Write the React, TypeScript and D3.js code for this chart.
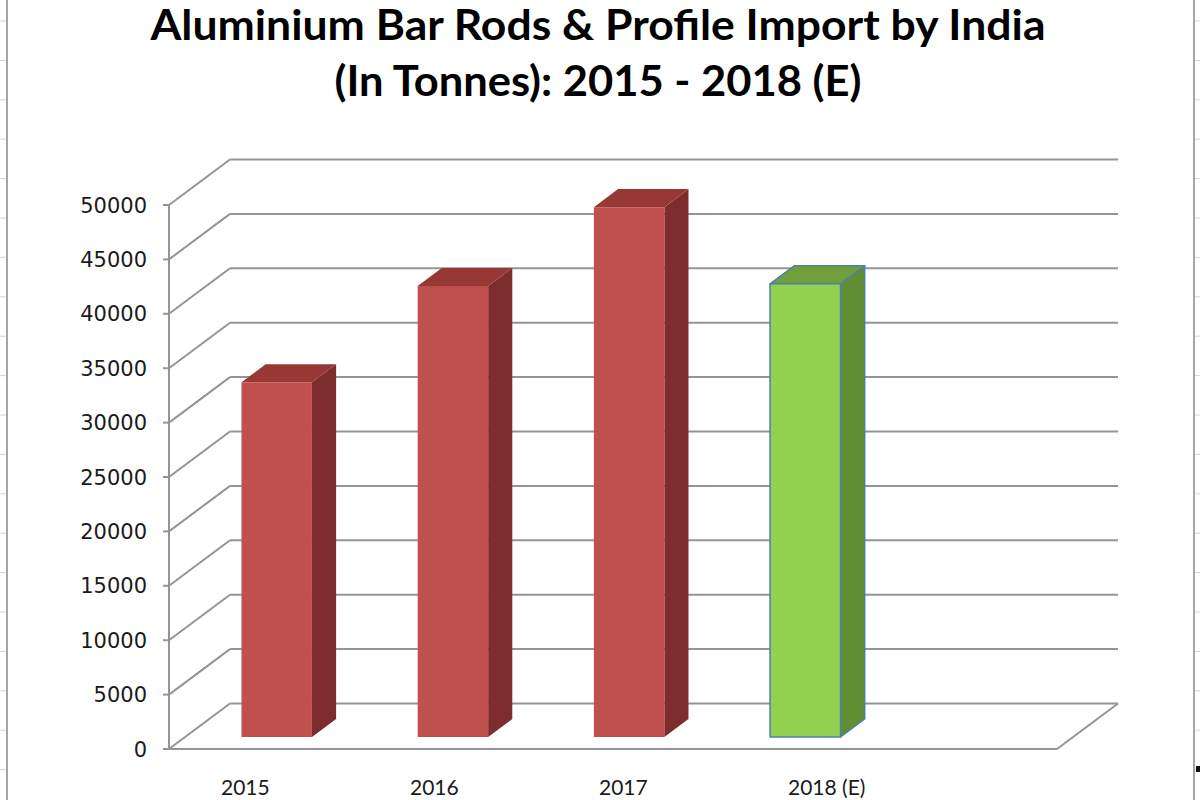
import React from 'react';
import * as d3 from 'd3';

// Excel 3D column chart: imports in tonnes, last year is an estimate
const categories = ['2015', '2016', '2017', '2018 (E)', ''];
const imports = [32600, 41450, 48700, 41650];
const estimated = [false, false, false, true];
const yTickValues = [0, 5000, 10000, 15000, 20000, 25000, 30000, 35000, 40000, 45000, 50000];

const titleLines = ['Aluminium Bar Rods & Profile Import by India', '(In Tonnes): 2015 - 2018 (E)'];

const W = 1200;
const H = 800;

// oblique depth offset of the plot box
const DEPTH_X = 61;
const DEPTH_Y = -45.5;
// bar front / back depth (fraction of the box depth)
const Z_FRONT = 0.264;
const Z_BACK = 0.66;

const GRID = '#959595';

const colors = {
  actual: { front: '#c0504d', top: '#983835', side: '#7d2e2c', stroke: 'none' },
  estimate: { front: '#92d050', top: '#6f9f3a', side: '#5f8e33', stroke: '#4f7fa8' },
};

const App: React.FC = () => {
  const x = d3.scaleBand<string>()
    .domain(categories)
    .range([169, 1057])
    .paddingInner(0.6)
    .paddingOuter(0.32);

  const y = d3.scaleLinear().domain([0, 50000]).range([749, 205]);

  // labels sit on the front edge with Excel's perspective spread
  const labelX = d3.scalePoint<string>()
    .domain(categories.slice(0, 4))
    .range([221, 788]);

  const proj = (px: number, py: number, z: number): [number, number] => [
    px + DEPTH_X * z,
    py + DEPTH_Y * z,
  ];
  const pts = (list: [number, number][]) => list.map((p) => p.join(',')).join(' ');

  const [x0, x1] = x.range();

  return (
    <svg
      width={W}
      height={H}
      style={{ position: 'absolute', left: 0, top: 0, background: '#fff' }}
    >
      {/* spreadsheet edges behind the chart */}
      {d3.range(21, H, 39.4).map((gy) => (
        <g key={gy}>
          <line x1={0} x2={7} y1={gy} y2={gy} stroke="#d4d4d4" strokeWidth={1} />
          <line x1={1195} x2={1200} y1={gy} y2={gy} stroke="#d4d4d4" strokeWidth={1} />
        </g>
      ))}
      <line x1={7} x2={7} y1={0} y2={H} stroke="#a6a6a6" strokeWidth={2} />
      <line x1={1194} x2={1194} y1={0} y2={H} stroke="#a6a6a6" strokeWidth={2} />
      <rect x={1196} y={766} width={4} height={6} fill="#111" />

      {/* title */}
      <g fontFamily="Lato, 'Open Sans', sans-serif" fontWeight="bold" fontSize={42} fill="#000" textAnchor="middle">
        <text x={598} y={40} textLength={895} lengthAdjust="spacingAndGlyphs">{titleLines[0]}</text>
        <text x={598} y={96} textLength={527} lengthAdjust="spacingAndGlyphs">{titleLines[1]}</text>
      </g>

      {/* walls: back gridlines and side diagonals */}
      {yTickValues.map((v) => {
        const [bx0, by] = proj(x0, y(v), 1);
        const [bx1] = proj(x1, y(v), 1);
        return (
          <g key={v} stroke={GRID} strokeWidth={2}>
            <line x1={x0} y1={y(v)} x2={bx0} y2={by} />
            <line x1={bx0} y1={by} x2={bx1} y2={by} />
            <line x1={x0 - 6} x2={x0} y1={y(v)} y2={y(v)} />
          </g>
        );
      })}
      {/* floor outline and value axis */}
      <g stroke={GRID} strokeWidth={2} fill="none">
        <line x1={x0} x2={x0} y1={y(50000)} y2={y(0)} />
        <line x1={x0} x2={x1} y1={y(0)} y2={y(0)} />
        <line x1={x1} y1={y(0)} x2={proj(x1, y(0), 1)[0]} y2={proj(x1, y(0), 1)[1]} />
      </g>

      {/* value labels */}
      <g fontFamily="'DejaVu Sans', Verdana, sans-serif" fontSize={21} fill="#1a1a1a" textAnchor="end">
        {yTickValues.map((v) => (
          <text key={v} x={147} y={y(v)} dy="0.36em">{v}</text>
        ))}
      </g>

      {/* bars */}
      {imports.map((v, i) => {
        const c = colors[estimated[i] ? 'estimate' : 'actual'];
        const left = x(categories[i])!;
        const right = left + x.bandwidth();
        const top = y(v);
        const base = y(0);
        const front: [number, number][] = [
          proj(left, top, Z_FRONT), proj(right, top, Z_FRONT),
          proj(right, base, Z_FRONT), proj(left, base, Z_FRONT),
        ];
        const topFace: [number, number][] = [
          proj(left, top, Z_FRONT), proj(right, top, Z_FRONT),
          proj(right, top, Z_BACK), proj(left, top, Z_BACK),
        ];
        const side: [number, number][] = [
          proj(right, top, Z_FRONT), proj(right, top, Z_BACK),
          proj(right, base, Z_BACK), proj(right, base, Z_FRONT),
        ];
        const sw = c.stroke === 'none' ? 0 : 1.5;
        return (
          <g key={categories[i]} strokeLinejoin="round">
            <polygon points={pts(side)} fill={c.side} stroke={c.stroke} strokeWidth={sw} />
            <polygon points={pts(topFace)} fill={c.top} stroke={c.stroke} strokeWidth={sw} />
            <polygon points={pts(front)} fill={c.front} stroke={c.stroke} strokeWidth={sw} />
          </g>
        );
      })}

      {/* category labels */}
      <g fontFamily="Lato, 'Open Sans', sans-serif" fontSize={21} fill="#1a1a1a">
        {categories.slice(0, 4).map((c) => (
          <text key={c} x={labelX(c)} y={795}>{c}</text>
        ))}
      </g>
    </svg>
  );
};

export default App;
